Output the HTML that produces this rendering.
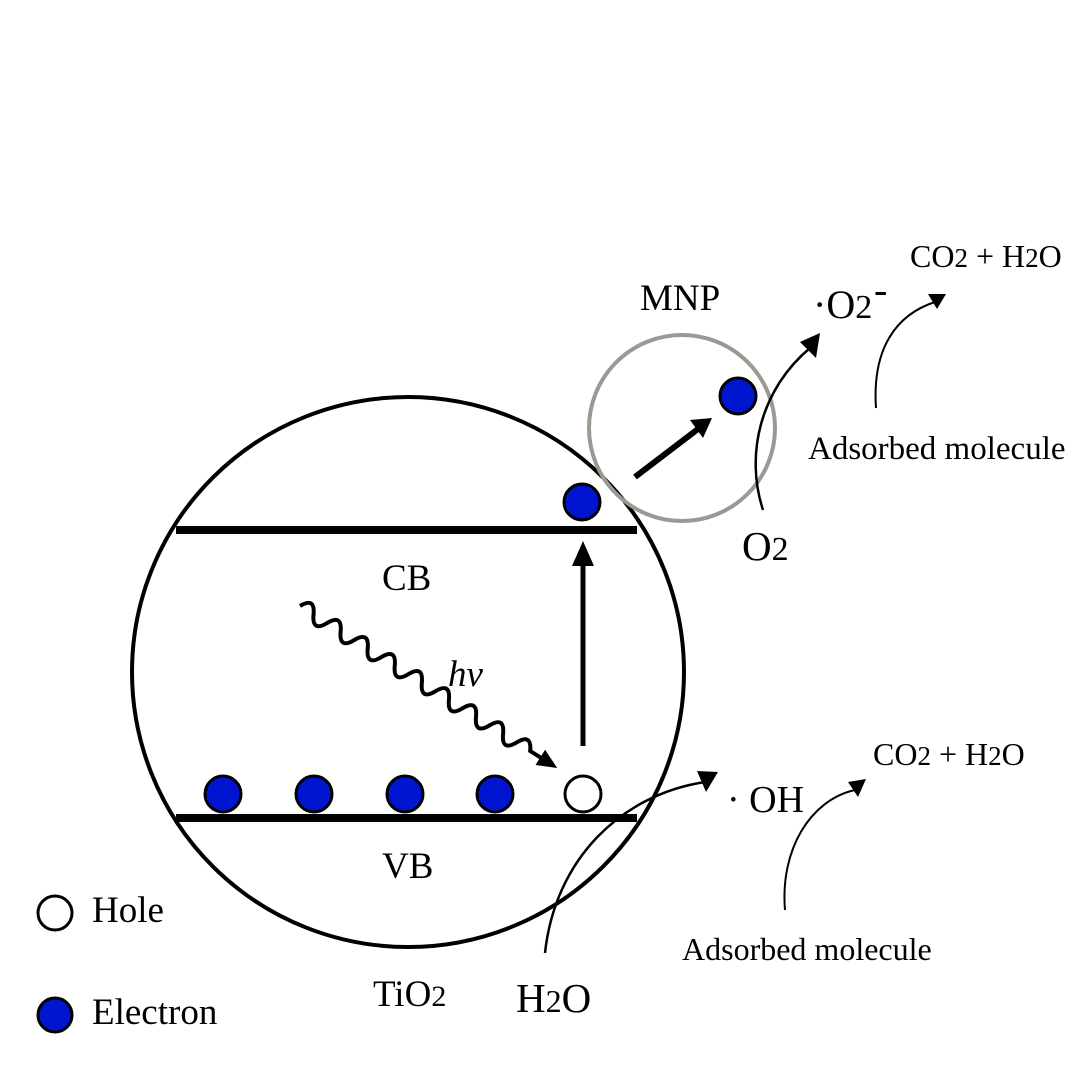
<!DOCTYPE html>
<html><head><style>body{margin:0;background:#fff}svg{display:block}</style></head><body>
<svg width="1080" height="1080" viewBox="0 0 1080 1080" xmlns="http://www.w3.org/2000/svg" font-family="Liberation Serif, serif" fill="#000">
<ellipse cx="408" cy="672" rx="276" ry="275" fill="none" stroke="#000" stroke-width="4"/>
<circle cx="682" cy="428" r="93" fill="none" stroke="#9a9a92" stroke-width="4"/>
<line x1="176" y1="530" x2="637" y2="530" stroke="#000" stroke-width="8"/>
<line x1="176" y1="818" x2="637" y2="818" stroke="#000" stroke-width="8"/>
<g fill="#0015d0" stroke="#000" stroke-width="3">
<circle cx="223" cy="794" r="18"/><circle cx="314" cy="794" r="18"/><circle cx="405" cy="794" r="18"/><circle cx="495" cy="794" r="18"/>
<circle cx="582" cy="502" r="18"/><circle cx="738" cy="396" r="18"/>
<circle cx="55" cy="1015" r="17"/>
</g>
<circle cx="583" cy="794" r="18" fill="#fff" stroke="#000" stroke-width="3"/>
<circle cx="55" cy="913" r="17" fill="#fff" stroke="#000" stroke-width="3"/>
<line x1="583" y1="746" x2="583" y2="565" stroke="#000" stroke-width="5"/>
<path d="M572,566 L583,541 L594,566 z"/>
<line x1="635" y1="477" x2="698" y2="429" stroke="#000" stroke-width="6"/>
<path d="M690,420 L712,418 L703,438 z"/>
<g transform="translate(300,606) rotate(32.2)">
<path d="M0,0 q8,-16 16,0 t16,0 t16,0 t16,0 t16,0 t16,0 t16,0 t16,0 t16,0 t16,0 t16,0 t16,0 t16,0 t16,0 t16,0 t16,0 t16,0 L286,0" fill="none" stroke="#000" stroke-width="4"/>
<path d="M284,-9 L304,0 L284,9 z"/>
</g>
<path d="M763,510 C745,455 760,390 810,348" fill="none" stroke="#000" stroke-width="2.5"/>
<path d="M800,342 L820,333 L816,358 z"/>
<path d="M876,408 C872,350 895,315 935,302" fill="none" stroke="#000" stroke-width="2"/>
<path d="M928,294 L946,294 L937,309 z"/>
<path d="M545,953 C555,860 620,795 705,782" fill="none" stroke="#000" stroke-width="2.5"/>
<path d="M697,771 L718,772 L706,792 z"/>
<path d="M785,910 C780,850 810,800 855,790" fill="none" stroke="#000" stroke-width="2"/>
<path d="M848,782 L866,779 L858,797 z"/>
<text x="382" y="590" font-size="37">CB</text>
<text x="382" y="878" font-size="37">VB</text>
<text x="448" y="686" font-size="37" font-style="italic">hv</text>
<text x="640" y="310" font-size="37">MNP</text>
<text x="742" y="560" font-size="41">O<tspan font-size="34">2</tspan></text>
<text x="516" y="1012" font-size="41">H<tspan font-size="32">2</tspan>O</text>
<text x="373" y="1006" font-size="37">TiO<tspan font-size="30">2</tspan></text>
<text x="92" y="922" font-size="37">Hole</text>
<text x="92" y="1024" font-size="37">Electron</text>
<text x="727" y="812" font-size="38">· OH</text>
<text x="813" y="318" font-size="40">·O<tspan font-size="34">2</tspan></text>
<text x="874" y="303" font-size="40">-</text>
<text x="910" y="267" font-size="32">CO<tspan font-size="27">2</tspan> + H<tspan font-size="27">2</tspan>O</text>
<text x="873" y="765" font-size="32">CO<tspan font-size="27">2</tspan> + H<tspan font-size="27">2</tspan>O</text>
<text x="808" y="459" font-size="33">Adsorbed molecule</text>
<text x="682" y="960" font-size="32">Adsorbed molecule</text>
</svg>
</body></html>
